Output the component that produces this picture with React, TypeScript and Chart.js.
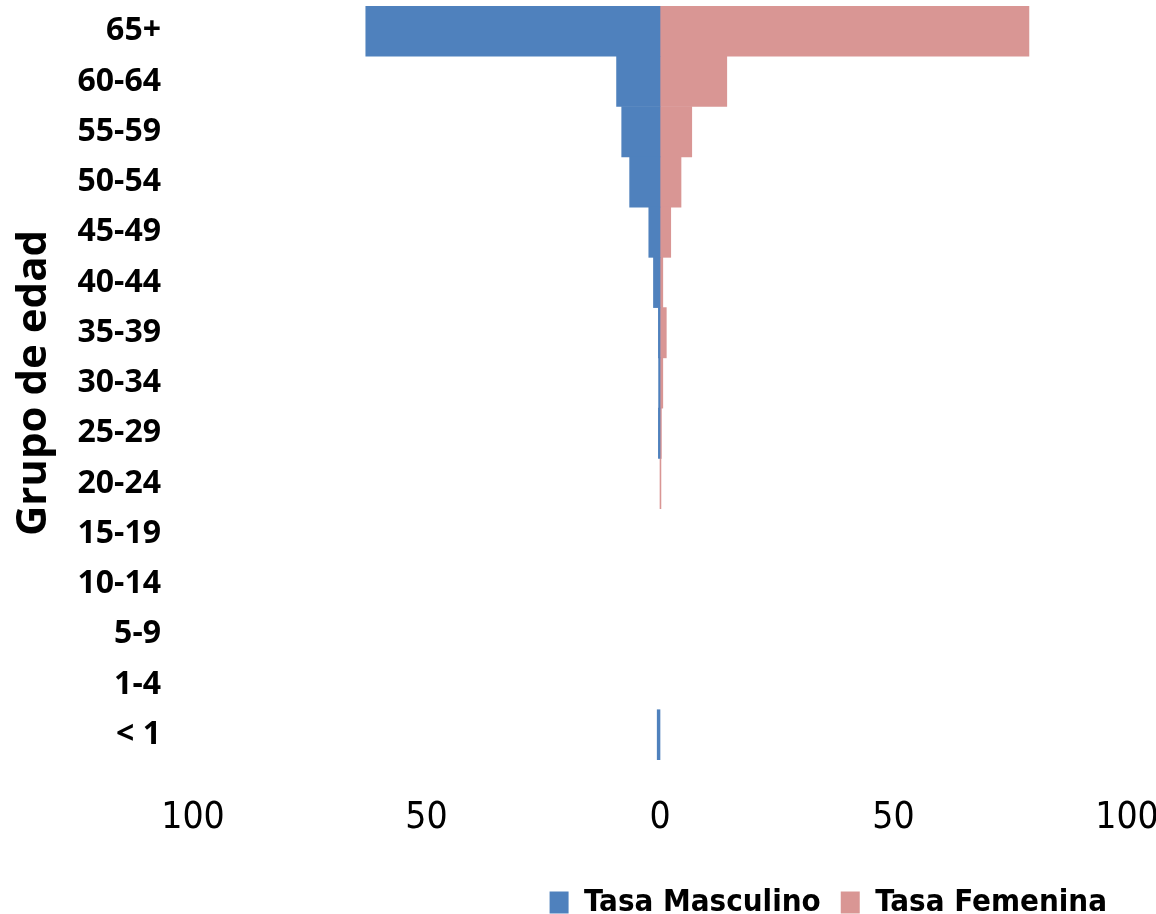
import React, { useEffect, useRef } from 'react';
import { Chart, registerables } from 'chart.js';

Chart.register(...registerables);

const ageGroups = ['65+', '60-64', '55-59', '50-54', '45-49', '40-44', '35-39', '30-34', '25-29', '20-24', '15-19', '10-14', '5-9', '1-4', '< 1'];
const maleRate = [63, 9.3, 8.2, 6.5, 2.4, 1.4, 0.35, 0.3, 0.35, 0, 0, 0, 0, 0, 0.6];
const femaleRate = [79, 14.3, 6.8, 4.5, 2.3, 0.6, 1.35, 0.6, 0.3, 0.2, 0, 0, 0, 0, 0];
const xTicks = [-100, -50, 0, 50, 100];

const NARROW = '"Liberation Sans Narrow", "DejaVu Sans Condensed", "Open Sans", sans-serif';
const BOLD = '"Open Sans", "Noto Sans", sans-serif';

export default function App() {
  const ref = useRef<HTMLCanvasElement | null>(null);
  useEffect(() => {
    if (!ref.current) return;
    const chart = new Chart(ref.current, {
      type: 'bar',
      data: {
        labels: ageGroups,
        datasets: [
          {
            label: 'Tasa Masculino',
            data: maleRate.map((v) => (v === 0 ? null : -v)),
            backgroundColor: '#4F81BD',
            borderWidth: 0,
            categoryPercentage: 1,
            barPercentage: 1,
          },
          {
            label: 'Tasa Femenina',
            data: femaleRate.map((v) => (v === 0 ? null : v)),
            backgroundColor: '#D99694',
            borderWidth: 0,
            categoryPercentage: 1,
            barPercentage: 1,
          },
        ],
      },
      options: {
        indexAxis: 'y',
        responsive: false,
        animation: false,
        maintainAspectRatio: false,
        layout: { padding: { top: 6, right: 29, left: 0, bottom: -14 } },
        plugins: {
          tooltip: { enabled: false },
          legend: {
            position: 'bottom',
            align: 'end',
            labels: {
              color: '#000',
              boxWidth: 19,
              boxHeight: 22,
              padding: 20,
              font: { family: NARROW, size: 31, weight: 'bold' },
            },
          },
        },
        scales: {
          x: {
            stacked: true,
            min: -100,
            max: 100,
            afterBuildTicks: (scale: any) => {
              scale.ticks = xTicks.map((v) => ({ value: v }));
            },
            afterFit: (scale: any) => {
              scale.height = 107;
              scale.paddingLeft = 0;
              scale.paddingRight = 0;
            },
            grid: { display: false },
            border: { display: false },
            ticks: {
              color: '#000',
              padding: 28,
              maxRotation: 0,
              font: { family: NARROW, size: 37 },
              callback: (v: any) => String(Math.abs(Number(v))),
            },
          },
          y: {
            stacked: true,
            afterFit: (scale: any) => {
              scale.width = 193;
              scale.paddingTop = 0;
              scale.paddingBottom = 0;
            },
            grid: { display: false },
            border: { display: false },
            ticks: {
              color: '#000',
              padding: 24,
              font: { family: BOLD, size: 32, weight: 'bold' },
            },
            title: {
              display: true,
              text: 'Grupo de edad',
              color: '#000',
              padding: { top: 9, bottom: 0 },
              font: { family: BOLD, size: 42, weight: 'bold' },
            },
          },
        },
      },
    } as any);
    return () => chart.destroy();
  }, []);
  return (
    <div style={{ position: 'absolute', left: 0, top: 0, width: 1156, height: 914, background: '#fff' }}>
      <canvas ref={ref} width={1156} height={914} />
    </div>
  );
}
